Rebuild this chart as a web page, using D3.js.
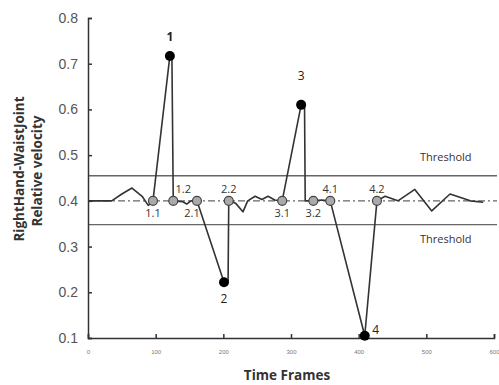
<!DOCTYPE html>
<html>
<head>
<meta charset="utf-8">
<script src="https://cdn.jsdelivr.net/npm/d3@7"></script>
<style>
  body { margin: 0; background: #fff; }
  svg { font-family: "Open Sans", "Liberation Sans", sans-serif; }
</style>
</head>
<body>
<svg id="chart" width="499" height="385"></svg>
<script>
// données
const frames   = [0, 35, 50, 65, 80, 89, 96, 121, 124, 126, 140, 146, 152, 161, 201, 207, 208, 218, 229, 236, 247, 257, 266, 276, 287, 315, 320, 321, 333, 345, 358, 409, 427, 439, 458, 483, 508, 535, 565, 584];
const velocity = [0.40, 0.40, 0.415, 0.428, 0.41, 0.39, 0.40, 0.717, 0.717, 0.40, 0.398, 0.393, 0.40, 0.40, 0.222, 0.222, 0.40, 0.395, 0.376, 0.40, 0.41, 0.403, 0.41, 0.402, 0.40, 0.61, 0.61, 0.40, 0.40, 0.402, 0.40, 0.105, 0.40, 0.41, 0.40, 0.425, 0.378, 0.415, 0.40, 0.397];

// pics (points noirs)
const peakFrames = [121, 201, 315, 409];
const peakValues = [0.717, 0.222, 0.61, 0.105];
const peakLabels = ["1", "2", "3", "4"];

// passages au niveau de repos (points gris)
const crossFrames = [96, 126, 161, 208, 287, 333, 358, 427];
const crossLabels = ["1.1", "1.2", "2.1", "2.2", "3.1", "3.2", "4.1", "4.2"];
const crossAbove  = [false, true, false, true, false, false, true, true];

const restLevel = 0.40;
const thresholds = [0.455, 0.348];

const yTicks = [0.1, 0.2, 0.3, 0.4, 0.5, 0.6, 0.7, 0.8];
const xTicks = [0, 100, 200, 300, 400, 500, 600];

const svg = d3.select("#chart");

// échelles
const x = d3.scaleLinear().domain([0, 600]).range([88, 494]);
const y = d3.scaleLinear().domain([0.1, 0.8]).range([338, 18]);

// lignes de seuil et niveau de repos
svg.selectAll(".threshold")
  .data(thresholds)
  .enter()
  .append("line")
  .attr("x1", x(0))
  .attr("x2", 497)
  .attr("y1", d => y(d))
  .attr("y2", d => y(d))
  .attr("stroke", "#666")
  .attr("stroke-width", 1.4);

svg.append("line")
  .attr("x1", x(0))
  .attr("x2", 497)
  .attr("y1", y(restLevel))
  .attr("y2", y(restLevel))
  .attr("stroke", "#666")
  .attr("stroke-width", 1.2)
  .attr("stroke-dasharray", "7,3,2,3");

svg.append("text").attr("x", 420).attr("y", y(thresholds[0]) - 15)
  .attr("font-size", 11).attr("fill", "#333").text("Threshold");
svg.append("text").attr("x", 420).attr("y", y(thresholds[1]) + 18)
  .attr("font-size", 11).attr("fill", "#333").text("Threshold");

// axes
const yAxis = d3.axisLeft(y).tickValues(yTicks).tickSize(-4).tickPadding(10)
  .tickFormat(d3.format(".1f"));
const gy = svg.append("g").attr("transform", `translate(${x(0)},0)`).call(yAxis);
gy.select(".domain").attr("stroke", "#333").attr("stroke-width", 1.5);
gy.selectAll(".tick line").attr("stroke", "#333").attr("stroke-width", 1.5);
gy.selectAll(".tick text").attr("font-size", 14).attr("fill", "#555");

const xAxis = d3.axisBottom(x).tickValues(xTicks).tickSize(-4).tickPadding(12);
const gx = svg.append("g").attr("transform", `translate(0,${y(0.1)})`).call(xAxis);
gx.select(".domain").attr("stroke", "#333").attr("stroke-width", 1.5);
gx.selectAll(".tick line").attr("stroke", "#333").attr("stroke-width", 1.5);
gx.selectAll(".tick text").attr("font-size", 6).attr("fill", "#777");

// titres des axes
svg.append("text")
  .attr("transform", "translate(24,169) rotate(-90)")
  .attr("text-anchor", "middle")
  .attr("font-size", 13.5).attr("font-weight", "bold").attr("fill", "#333")
  .text("RightHand-WaistJoint");
svg.append("text")
  .attr("transform", "translate(42,171) rotate(-90)")
  .attr("text-anchor", "middle")
  .attr("font-size", 13.5).attr("font-weight", "bold").attr("fill", "#333")
  .text("Relative velocity");
svg.append("text")
  .attr("x", 287).attr("y", 380)
  .attr("text-anchor", "middle")
  .attr("font-size", 13.5).attr("font-weight", "bold").attr("fill", "#333")
  .text("Time Frames");

// courbe
const line = d3.line().x((d, i) => x(frames[i])).y(d => y(d));
svg.append("path")
  .datum(velocity)
  .attr("d", line)
  .attr("fill", "none")
  .attr("stroke", "#333")
  .attr("stroke-width", 1.6)
  .attr("stroke-linejoin", "round");

// points de passage
svg.selectAll(".cross")
  .data(crossFrames)
  .enter()
  .append("circle")
  .attr("cx", d => x(d))
  .attr("cy", y(restLevel))
  .attr("r", 4.5)
  .attr("fill", "#aaa")
  .attr("stroke", "#444")
  .attr("stroke-width", 1.2);

const labelShift = { "1.2": 10, "2.1": -5 };
svg.selectAll(".cross-label")
  .data(crossFrames)
  .enter()
  .append("text")
  .attr("x", (d, i) => x(d) + (labelShift[crossLabels[i]] || 0))
  .attr("y", (d, i) => crossAbove[i] ? y(restLevel) - 8 : y(restLevel) + 16)
  .attr("text-anchor", "middle")
  .attr("font-size", 11)
  .attr("fill", "#333")
  .text((d, i) => crossLabels[i]);

// pics
svg.selectAll(".peak")
  .data(peakFrames)
  .enter()
  .append("circle")
  .attr("cx", d => x(d))
  .attr("cy", (d, i) => y(peakValues[i]))
  .attr("r", 5)
  .attr("fill", "#000");

const peakDy = [-15, 21, -25, -2];
svg.selectAll(".peak-label")
  .data(peakFrames)
  .enter()
  .append("text")
  .attr("x", (d, i) => x(d) + (i === 3 ? 11 : 0))
  .attr("y", (d, i) => y(peakValues[i]) + peakDy[i])
  .attr("text-anchor", "middle")
  .attr("font-size", 12)
  .attr("font-weight", (d, i) => i === 0 ? "bold" : "normal")
  .attr("fill", "#222")
  .text((d, i) => peakLabels[i]);
</script>
</body>
</html>
